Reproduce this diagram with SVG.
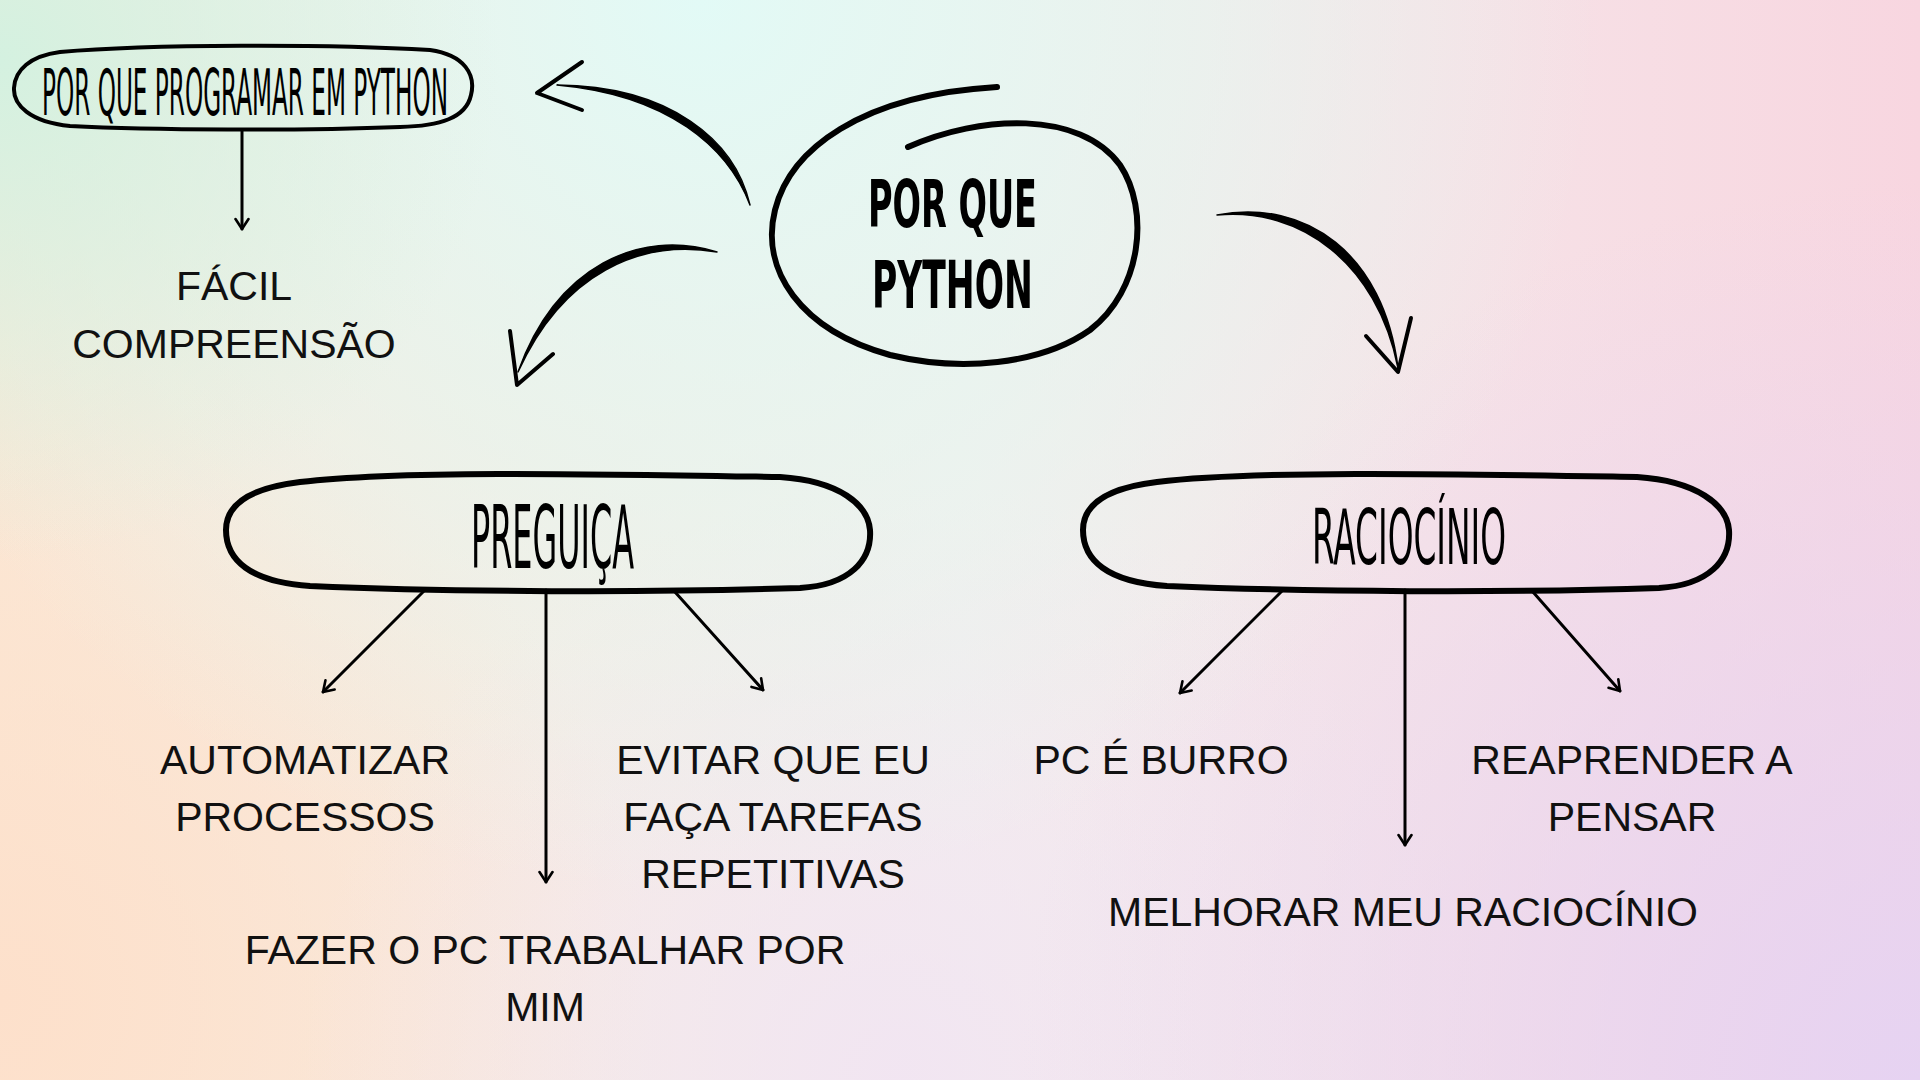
<svg xmlns="http://www.w3.org/2000/svg" width="1920" height="1080" viewBox="0 0 1920 1080">
  <defs>
    <linearGradient id="bgBase" x1="0" y1="0" x2="1" y2="0">
      <stop offset="0" stop-color="#fbe8d6"/>
      <stop offset="0.5" stop-color="#f4efee"/>
      <stop offset="1" stop-color="#f8d6e0"/>
    </linearGradient>
    <radialGradient id="bgTop" cx="700" cy="0" r="900" gradientUnits="userSpaceOnUse">
      <stop offset="0" stop-color="#e2faf6" stop-opacity="1"/>
      <stop offset="0.55" stop-color="#e4f6ef" stop-opacity="0.6"/>
      <stop offset="1" stop-color="#e4f6ef" stop-opacity="0"/>
    </radialGradient>
    <radialGradient id="bgTL" cx="0" cy="60" r="500" gradientUnits="userSpaceOnUse">
      <stop offset="0" stop-color="#d4f1e0" stop-opacity="1"/>
      <stop offset="1" stop-color="#d4f1e0" stop-opacity="0"/>
    </radialGradient>
    <radialGradient id="bgBR" cx="1920" cy="1080" r="900" gradientUnits="userSpaceOnUse">
      <stop offset="0" stop-color="#e6d3f2" stop-opacity="1"/>
      <stop offset="1" stop-color="#e6d3f2" stop-opacity="0"/>
    </radialGradient>
    <radialGradient id="bgBL" cx="0" cy="1000" r="650" gradientUnits="userSpaceOnUse">
      <stop offset="0" stop-color="#fde0cb" stop-opacity="1"/>
      <stop offset="1" stop-color="#fde0cb" stop-opacity="0"/>
    </radialGradient>
    <radialGradient id="bgBC" cx="900" cy="1080" r="600" gradientUnits="userSpaceOnUse">
      <stop offset="0" stop-color="#f1e4f2" stop-opacity="0.9"/>
      <stop offset="1" stop-color="#f1e4f2" stop-opacity="0"/>
    </radialGradient>
    <marker id="ah" viewBox="0 0 16 16" refX="13" refY="8" markerWidth="16" markerHeight="16" markerUnits="userSpaceOnUse" orient="auto">
      <path d="M3,1.5 L13,8 L3,14.5" fill="none" stroke="#000" stroke-width="2.6" stroke-linecap="round" stroke-linejoin="round"/>
    </marker>
    <style>
      .lbl { font-family: "Liberation Sans", Arial, sans-serif; font-size: 41px; fill: #111; text-anchor: middle; }
      .hand { font-family: "Liberation Sans Narrow", "DejaVu Sans Condensed", "Liberation Sans", sans-serif; fill: #000; }
      .brush { font-family: "DejaVu Sans Condensed", "DejaVu Sans", sans-serif; font-weight: 700; fill: #000; }
      .outline { fill: none; stroke: #000; stroke-linecap: round; stroke-linejoin: round; }
      .conn { fill: none; stroke: #000; stroke-width: 3; stroke-linecap: round; marker-end: url(#ah); }
      .curve { fill: #000; stroke: #000; stroke-width: 1.5; stroke-linejoin: round; }
      .barb { fill: none; stroke: #000; stroke-width: 4; stroke-linecap: round; stroke-linejoin: round; }
    </style>
  </defs>

  <rect x="0" y="0" width="1920" height="1080" fill="url(#bgBase)"/>
  <rect x="0" y="0" width="1920" height="1080" fill="url(#bgBL)"/>
  <rect x="0" y="0" width="1920" height="1080" fill="url(#bgBC)"/>
  <rect x="0" y="0" width="1920" height="1080" fill="url(#bgBR)"/>
  <rect x="0" y="0" width="1920" height="1080" fill="url(#bgTop)"/>
  <rect x="0" y="0" width="1920" height="1080" fill="url(#bgTL)"/>

  <g id="connectors">
    <!-- center to top-left pill -->
    <path class="curve" d="M750,205 C735,140 670,86 557,85 C668,95 728,147 750,205 Z"/>
    <path class="barb" d="M582,62 L537,93 L582,110"/>
    <!-- center to Preguiça -->
    <path class="curve" d="M717,252 C640,228 556,266 518,372 C563,273 640,239 717,252 Z"/>
    <path class="barb" d="M510,331 L517,385 L553,354"/>
    <!-- center to Raciocínio -->
    <path class="curve" d="M1217,215 C1306,198 1384,254 1398,368 C1377,263 1300,207 1217,215 Z"/>
    <path class="barb" d="M1366,336 L1398,372 L1411,318"/>
    <!-- top pill to Fácil -->
    <line class="conn" x1="242" y1="130" x2="242" y2="229"/>
    <!-- Preguiça children -->
    <line class="conn" x1="425" y1="590" x2="323" y2="692"/>
    <line class="conn" x1="546" y1="590" x2="546" y2="882"/>
    <line class="conn" x1="675" y1="592" x2="763" y2="690"/>
    <!-- Raciocínio children -->
    <line class="conn" x1="1283" y1="590" x2="1180" y2="693"/>
    <line class="conn" x1="1405" y1="590" x2="1405" y2="845"/>
    <line class="conn" x1="1533" y1="592" x2="1620" y2="691"/>
  </g>

  <g id="node-center">
    <path class="outline" stroke-width="6" d="M908,147 C980,115 1080,110 1120,165 C1150,210 1142,290 1090,330 C1040,365 960,372 890,355 C800,330 760,270 775,210 C790,150 860,95 997,87"/>
    <text class="brush" x="868" y="227" font-size="66" textLength="169" lengthAdjust="spacingAndGlyphs">POR QUE</text>
    <text class="brush" x="872" y="308" font-size="66" textLength="161" lengthAdjust="spacingAndGlyphs">PYTHON</text>
  </g>

  <g id="node-why">
    <path class="outline" stroke-width="4" d="M60,52 C150,44 330,44 430,50 C465,55 476,75 471,95 C466,118 440,126 400,127 C300,131 150,130 70,126 C30,122 13,105 14,88 C15,70 30,56 60,52 Z"/>
    <text class="hand" x="42" y="115" font-size="64" font-weight="400" textLength="406" lengthAdjust="spacingAndGlyphs">POR QUE PROGRAMAR EM PYTHON</text>
  </g>

  <g id="node-facil">
    <text class="lbl" x="234" y="300">FÁCIL</text>
    <text class="lbl" x="234" y="358">COMPREENSÃO</text>
  </g>

  <g id="node-preguica">
    <path class="outline" stroke-width="6" d="M300,482 C400,470 600,474 780,477 C840,481 868,505 870,530 C872,560 850,585 800,588 C650,593 450,592 310,586 C250,582 226,560 226,530 C226,505 250,488 300,482 Z"/>
    <text class="hand" x="471" y="568" font-size="88" textLength="163" lengthAdjust="spacingAndGlyphs">PREGUIÇA</text>
  </g>

  <g id="node-raciocinio">
    <path class="outline" stroke-width="6" d="M1157,482 C1257,470 1457,474 1637,477 C1697,481 1727,505 1729,530 C1731,560 1709,585 1659,588 C1509,593 1309,592 1167,586 C1107,582 1083,560 1083,530 C1083,505 1107,488 1157,482 Z"/>
    <text class="hand" x="1312" y="564" font-size="77" textLength="194" lengthAdjust="spacingAndGlyphs">RACIOCÍNIO</text>
  </g>

  <g id="node-automatizar">
    <text class="lbl" x="305" y="774">AUTOMATIZAR</text>
    <text class="lbl" x="305" y="831">PROCESSOS</text>
  </g>

  <g id="node-evitar">
    <text class="lbl" x="773" y="774">EVITAR QUE EU</text>
    <text class="lbl" x="773" y="831">FAÇA TAREFAS</text>
    <text class="lbl" x="773" y="888">REPETITIVAS</text>
  </g>

  <g id="node-fazer">
    <text class="lbl" x="545" y="964">FAZER O PC TRABALHAR POR</text>
    <text class="lbl" x="545" y="1021">MIM</text>
  </g>

  <g id="node-pc">
    <text class="lbl" x="1161" y="774">PC É BURRO</text>
  </g>

  <g id="node-reaprender">
    <text class="lbl" x="1632" y="774">REAPRENDER A</text>
    <text class="lbl" x="1632" y="831">PENSAR</text>
  </g>

  <g id="node-melhorar">
    <text class="lbl" x="1403" y="926">MELHORAR MEU RACIOCÍNIO</text>
  </g>
</svg>
